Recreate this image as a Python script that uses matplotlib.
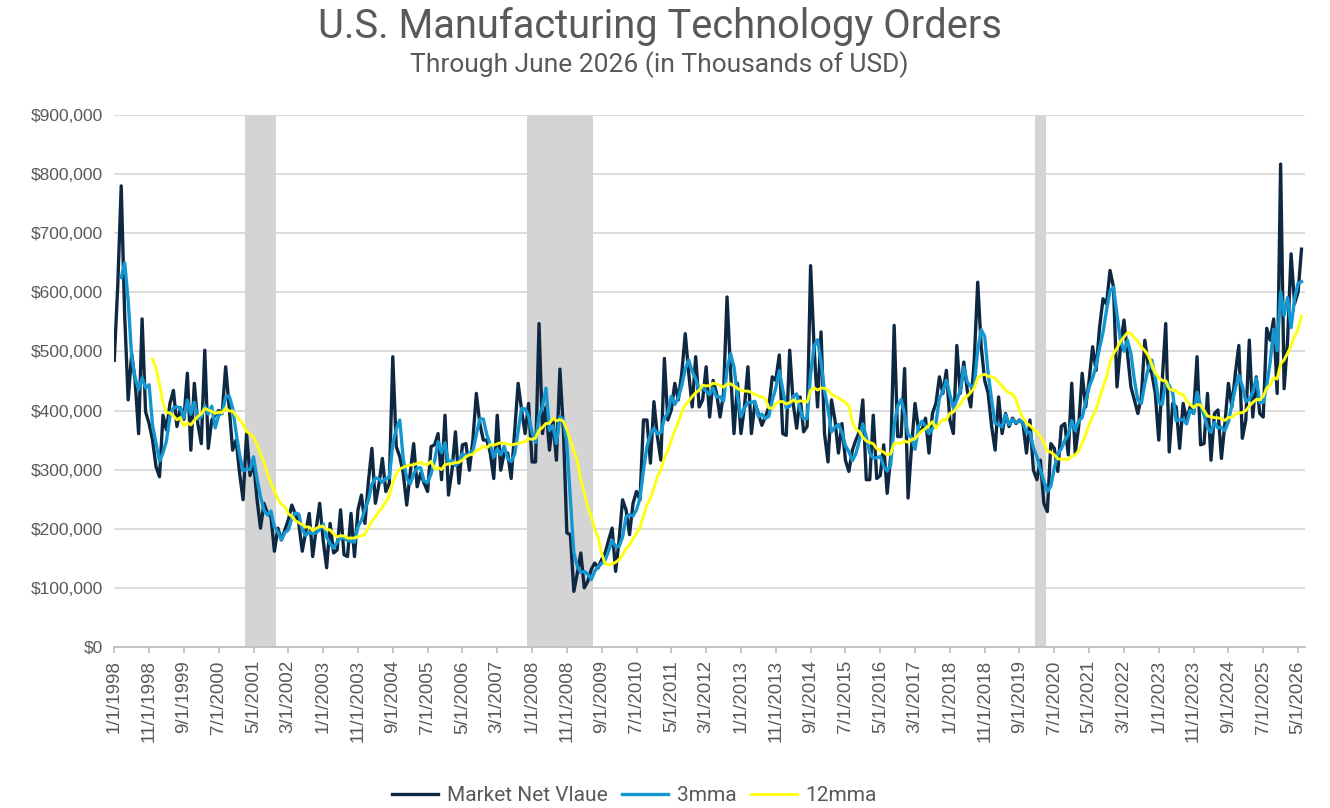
import numpy as np
import pandas as pd
import matplotlib
matplotlib.use("Agg")
import matplotlib.pyplot as plt
from matplotlib.ticker import FuncFormatter

# Monthly market net value, thousands of USD (in 000s)
start_month = "1998-01-01"
market_net_value = [
    485, 610, 780, 560, 418, 496, 450, 361, 555, 398, 378, 350,   # 1998
    305, 288, 392, 367, 412, 434, 373, 405, 385, 463, 333, 446,   # 1999
    378, 344, 502, 336, 384, 392, 400, 395, 474, 406, 333, 350,   # 2000
    294, 249, 361, 290, 314, 250, 201, 243, 226, 221, 162, 201,   # 2001
    181, 198, 215, 240, 225, 209, 162, 195, 226, 153, 200, 243,   # 2002
    181, 134, 209, 159, 164, 232, 156, 153, 226, 153, 232, 257,   # 2003
    209, 280, 336, 243, 274, 319, 263, 277, 491, 339, 322, 294,   # 2004
    240, 294, 344, 271, 294, 277, 263, 339, 342, 361, 283, 392,   # 2005
    257, 299, 364, 277, 342, 344, 299, 350, 429, 378, 350, 350,   # 2006
    328, 285, 392, 299, 328, 328, 285, 364, 446, 401, 361, 412,   # 2007
    313, 313, 547, 361, 406, 333, 384, 316, 470, 367, 193, 190,   # 2008
    94, 125, 159, 100, 111, 131, 142, 134, 148, 159, 181, 201,    # 2009
    128, 181, 249, 232, 190, 243, 263, 249, 384, 384, 311, 415,   # 2010
    356, 316, 488, 384, 401, 446, 418, 463, 530, 463, 406, 491,   # 2011
    406, 418, 474, 389, 451, 429, 389, 429, 592, 468, 361, 446,   # 2012
    361, 406, 474, 361, 412, 395, 375, 389, 406, 457, 451, 494,   # 2013
    361, 358, 502, 412, 370, 423, 364, 373, 645, 508, 406, 533,   # 2014
    361, 313, 418, 384, 328, 378, 316, 297, 333, 350, 364, 418,   # 2015
    283, 283, 392, 285, 290, 342, 260, 322, 544, 356, 356, 471,   # 2016
    252, 339, 412, 367, 367, 387, 328, 395, 412, 457, 429, 468,   # 2017
    384, 361, 510, 429, 482, 434, 406, 485, 617, 508, 451, 429,   # 2018
    373, 333, 423, 361, 395, 373, 387, 378, 384, 378, 328, 384,   # 2019
    299, 283, 316, 243, 229, 344, 336, 297, 373, 378, 325, 446,   # 2020
    328, 373, 463, 406, 451, 508, 468, 541, 589, 580, 637, 609,   # 2021
    440, 508, 553, 496, 440, 418, 395, 423, 519, 474, 463, 429,   # 2022
    350, 451, 547, 330, 412, 406, 336, 412, 384, 406, 395, 491,   # 2023
    342, 344, 429, 316, 395, 401, 319, 378, 446, 406, 463, 510,   # 2024
    353, 384, 519, 389, 457, 395, 389, 539, 519, 555, 429, 817,   # 2025
    437, 519, 665, 581, 600, 673,                                 # 2026
]

# recession periods (first month, last month)
recessions = [("2001-03-01", "2001-11-01"),
              ("2007-12-01", "2009-06-01"),
              ("2020-02-01", "2020-04-01")]

series_labels = ["Market Net Vlaue", "3mma", "12mma"]
label_every = 10  # months between category labels

title = "U.S. Manufacturing Technology Orders"
subtitle = "Through June 2026 (in Thousands of USD)"

# ---------------------------------------------------------------
dates = pd.date_range(start_month, periods=len(market_net_value), freq="MS")
value = pd.Series(market_net_value, dtype=float) * 1000
ma3 = value.rolling(3).mean()
ma12 = value.rolling(12).mean()
x = np.arange(len(value))

NARROW = ["Roboto", "DejaVu Sans"]
TEXT_GREY = "#595959"

fig = plt.figure(figsize=(13.3, 8.08), dpi=100, facecolor="white")
ax = fig.add_axes([0.0859, 0.1993, 0.8953, 0.6584])

# recession shading
for start, end in recessions:
    i0 = dates.get_loc(pd.Timestamp(start))
    i1 = dates.get_loc(pd.Timestamp(end))
    ax.axvspan(i0 - 0.5, i1 + 0.5, color="#D4D4D4", lw=0, zorder=1)

ax.plot(x, value, color="#0E2841", lw=2.4, zorder=3, label=series_labels[0],
        solid_joinstyle="round")
ax.plot(x, ma3, color="#1397D2", lw=2.4, zorder=4, label=series_labels[1],
        solid_joinstyle="round")
ax.plot(x, ma12, color="#FFFF14", lw=2.1, zorder=5, label=series_labels[2],
        solid_joinstyle="round")

ax.set_xlim(0, len(value))
ax.set_ylim(0, 900000)
ax.set_yticks(np.arange(0, 900001, 100000))
ax.yaxis.set_major_formatter(FuncFormatter(lambda v, p: f"${v:,.0f}"))
ax.yaxis.grid(True, color="#D9D9D9", lw=1.3, zorder=0)
ax.set_axisbelow(True)

ticks = x[::label_every]
ax.set_xticks(ticks)
ax.set_xticklabels([f"{d.month}/{d.day}/{d.year}" for d in dates[ticks]],
                   rotation=90)

for side in ["top", "right", "left"]:
    ax.spines[side].set_visible(False)
ax.spines["bottom"].set_color("#BFBFBF")
ax.spines["bottom"].set_linewidth(1.3)
ax.spines["bottom"].set_zorder(2)

ax.tick_params(axis="y", length=0, pad=8, labelsize=12.5, labelcolor=TEXT_GREY)
ax.tick_params(axis="x", length=4.5, width=1.3, color="#BFBFBF", pad=5,
               labelsize=13.5, labelcolor=TEXT_GREY)
for lbl in ax.get_xticklabels() + ax.get_yticklabels():
    lbl.set_fontfamily(["Liberation Sans", "DejaVu Sans"])

fig.text(0.4962, 0.953, title, ha="center", va="baseline", fontsize=28.7,
         color=TEXT_GREY, family=NARROW)
fig.text(0.4955, 0.911, subtitle, ha="center", va="baseline", fontsize=19,
         color=TEXT_GREY, family=NARROW)

leg = fig.legend(loc="center", bbox_to_anchor=(0.477, 0.015), ncol=3,
                 frameon=False, handlelength=2.2, columnspacing=0.7,
                 handletextpad=0.43, prop={"family": NARROW, "size": 15})
for t in leg.get_texts():
    t.set_color(TEXT_GREY)

fig.savefig("out.png", dpi=100, facecolor="white")
plt.close(fig)
